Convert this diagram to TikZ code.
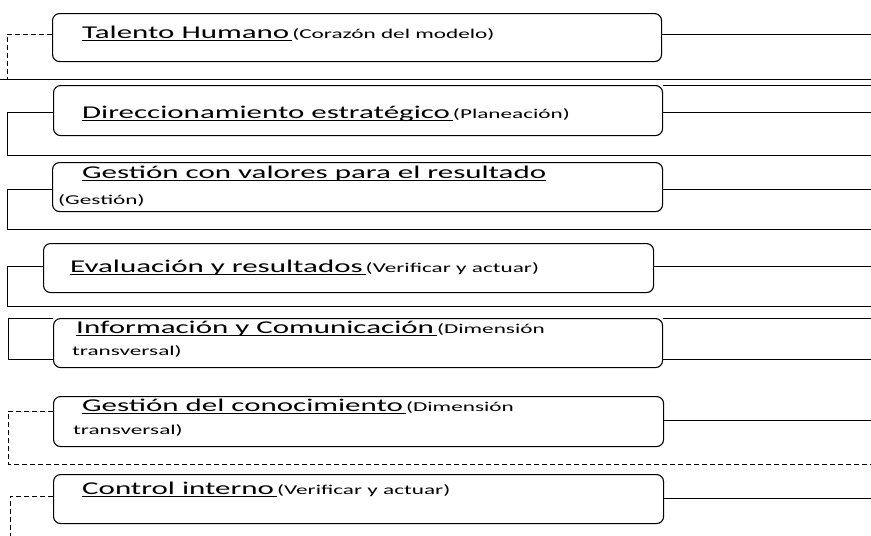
\documentclass[tikz,border=0pt]{standalone}
\usepackage{fontspec}
\setmainfont{Carlito}
\newfontfamily\tfont[FakeStretch=1.72]{Carlito}
\newcommand\bigt{\tfont\fontsize{18}{21}\selectfont}
\newcommand\smallt{\tfont\fontsize{13.5}{16}\selectfont}
\newcommand\uln[1]{\setbox0\hbox{#1}\rlap{\rule[-2.6pt]{\wd0}{0.9pt}}\box0}
\begin{document}
\begin{tikzpicture}[x=1pt,y=-1pt,
  box/.style={draw, line width=1.1pt, rounded corners=7pt, inner sep=0pt, anchor=north west},
  ln/.style={line width=0.9pt},
  dl/.style={line width=0.9pt, dash pattern=on 5pt off 3pt},
  txt/.style={anchor=base west, inner sep=0pt}]
\useasboundingbox (0,0) rectangle (871,536);
% boxes
\node[box, minimum width=609pt, minimum height=48pt] (b1) at (52,13) {};
\node[box, minimum width=609pt, minimum height=50pt] (b2) at (53,85) {};
\node[box, minimum width=610pt, minimum height=49pt] (b3) at (52,162) {};
\node[box, minimum width=610pt, minimum height=49pt] (b4) at (43,243) {};
\node[box, minimum width=609pt, minimum height=49pt] (b5) at (53,318) {};
\node[box, minimum width=610pt, minimum height=50pt] (b6) at (53,396) {};
\node[box, minimum width=610pt, minimum height=49pt] (b7) at (53,474) {};
% texts
\node[txt] (t1) at (82,38) {\bigt\uln{Talento Humano\,}\smallt(Corazón del modelo)};
\node[txt] (t2) at (82,118) {\bigt\uln{Direccionamiento estratégico\,}\smallt(Planeación)};
\node[txt] (t3a) at (82,178) {\bigt\uln{Gestión con valores para el resultado}};
\node[txt] (t3b) at (58,204) {\smallt(Gestión)};
\node[txt] (t4) at (70,272) {\bigt\uln{Evaluación y resultados\,}\smallt(Verificar y actuar)};
\node[txt] (t5a) at (76,333) {\bigt\uln{Información y Comunicación\,}\smallt(Dimensión};
\node[txt] (t5b) at (72,355) {\smallt transversal)};
\node[txt] (t6a) at (82,411) {\bigt\uln{Gestión del conocimiento\,}\smallt(Dimensión};
\node[txt] (t6b) at (73,434) {\smallt transversal)};
\node[txt] (t7) at (82,494) {\bigt\uln{Control interno\,}\smallt(Verificar y actuar)};
% coordinates
\coordinate (l1) at (7,34);  \coordinate (s1l) at (0,79);  \coordinate (s1r) at (871,79);
\coordinate (l1b) at (7,79);
\coordinate (r1) at (871,34);
\coordinate (r2a) at (871,85); \coordinate (r2) at (871,112);
\coordinate (l2) at (7,112); \coordinate (l2b) at (7,155); \coordinate (s2r) at (871,155);
\coordinate (r3) at (871,189); \coordinate (l3) at (7,189); \coordinate (l3b) at (7,229); \coordinate (s3r) at (871,229);
\coordinate (r4) at (871,266); \coordinate (l4) at (7,266); \coordinate (l4b) at (7,306); \coordinate (s4r) at (871,306);
\coordinate (r5a) at (871,318); \coordinate (r5b) at (871,359);
\coordinate (l5a) at (8,318); \coordinate (l5b) at (8,359);
\coordinate (r6) at (871,420); \coordinate (l6) at (8,411); \coordinate (l6b) at (8,464); \coordinate (s5r) at (871,464);
\coordinate (r7) at (871,498); \coordinate (l7) at (10,496); \coordinate (l7b) at (10,536);
% right connectors
\draw[ln] (b1.east |- r1) -- (r1);
\draw[ln] (b2.east |- r2a) -- (r2a);
\draw[ln] (b2.east |- r2) -- (r2);
\draw[ln] (b3.east |- r3) -- (r3);
\draw[ln] (b4.east |- r4) -- (r4);
\draw[ln] (b5.east |- r5a) -- (r5a);
\draw[ln] (b5.east |- r5b) -- (r5b);
\draw[ln] (b6.east |- r6) -- (r6);
\draw[ln] (b7.east |- r7) -- (r7);
% left connectors and separators
\draw[dl] (b1.west |- l1) -- (l1) -- (l1b);
\draw[ln] (s1l) -- (s1r);
\draw[ln] (b2.west |- l2) -- (l2) -- (l2b) -- (s2r);
\draw[ln] (b3.west |- l3) -- (l3) -- (l3b) -- (s3r);
\draw[ln] (b4.west |- l4) -- (l4) -- (l4b) -- (s4r);
\draw[ln] (b5.west |- l5a) -- (l5a) -- (l5b) -- (b5.west |- l5b);
\draw[dl] (b6.west |- l6) -- (l6) -- (l6b) -- (s5r);
\draw[dl] (b7.west |- l7) -- (l7) -- (l7b);
\end{tikzpicture}
\end{document}
